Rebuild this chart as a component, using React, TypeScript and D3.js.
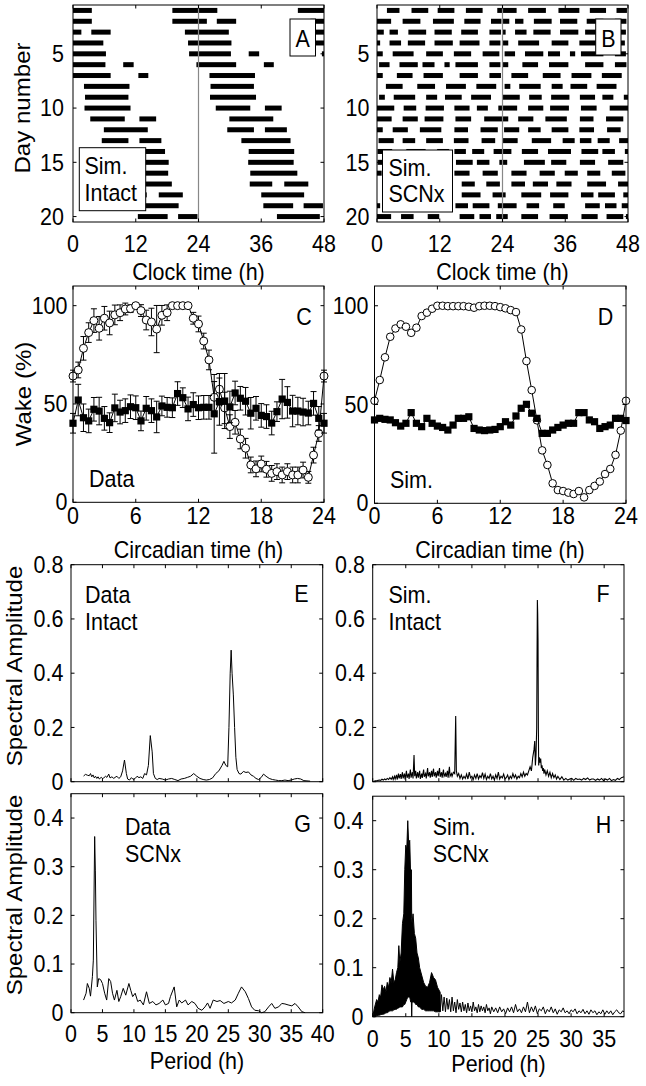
import React from 'react';
import * as d3 from 'd3';

const FONT = '"Liberation Sans", Arial, Helvetica, sans-serif';
const FS = 21.5;
const SY = 1.12;

// ---------- Panel A: simulated intact, wake episodes per day [start, end] (clock h) ----------
const intactWake: number[][][] = [
  [[0, 3.6], [19, 24]],
  [[0, 3.6], [19, 24]],
  [[0, 1.6], [3.5, 7.2], [21.4, 24]],
  [[0, 5.8], [22, 24]],
  [[0, 6.3], [22.2, 24]],
  [[0, 6.2], [9.6, 11.6], [23.6, 24]],
  [[0, 7.2], [12.5, 14.4]],
  [[2.1, 10.8]],
  [[2.3, 10.6]],
  [[2.2, 11]],
  [[3.3, 9.9], [12.7, 15.9]],
  [[5.9, 14.3]],
  [[5.5, 10.6], [12.7, 16.9]],
  [[8.2, 17.6]],
  [[9.6, 18.3]],
  [[9.5, 18.2]],
  [[9.9, 18.9]],
  [[9.8, 14.1], [16.4, 21]],
  [[12, 20.2]],
  [[12.4, 18.1], [20.1, 23.8]],
  [[15, 23.2]],
];

// ---------- Panel B: simulated SCNx ----------
const scnxWake: number[][][] = [
  [[1.9, 4.3], [6.6, 9.8], [11.6, 14.8], [17, 20.2], [23, 24]],
  [[0, 2.7], [4.9, 8.3], [10.7, 14.7], [16.7, 19.8], [21.8, 23.8]],
  [[0, 1.3], [2.4, 4], [6, 9.4], [11, 14.3], [16.1, 19.3], [21.5, 23.7]],
  [[0, 0.6], [2.4, 4.6], [5.9, 9.2], [11, 14.5], [15.8, 19.6], [21.5, 23.6]],
  [[0, 1.1], [3, 7], [9.4, 12.6], [14.7, 18], [20.2, 23.4]],
  [[0.4, 2.4], [4.3, 7.8], [8.7, 11], [12.9, 13.9], [15, 19.3], [21.5, 23.6]],
  [[0, 1.1], [3.8, 6.8], [8.9, 12.6], [15.8, 19.3], [21.5, 23.7]],
  [[1.7, 4.9], [7.7, 11.1], [13.2, 17], [19, 22.8]],
  [[0.4, 1.5], [3.2, 7.3], [9.4, 11.5], [13, 16.2], [18, 21.8]],
  [[0, 3.3], [5.1, 7.5], [9.3, 12.8], [14.8, 17.7], [19.1, 21.2], [23.2, 24]],
  [[0, 2.8], [4.9, 7.8], [9.1, 12.7], [15, 18], [20.5, 24]],
  [[0, 1.1], [3, 5.9], [8.2, 12.3], [14.8, 17.4], [19.8, 23.1]],
  [[0.3, 3.2], [4.9, 7.3], [9.4, 12.6], [14.7, 17.5], [20, 22.6]],
  [[0.1, 2.9], [5.6, 9.3], [11.5, 13.8], [14.8, 17], [18.2, 20.5], [22.3, 24]],
  [[0.1, 1.7], [3.7, 6.8], [8.7, 13.1], [15.1, 18.3], [19.1, 21.5], [23.4, 24]],
  [[0, 0.9], [4.1, 8.1], [9.3, 12.2], [14.8, 17.7], [20.2, 23.1]],
  [[1.7, 4.6], [7.1, 10], [11.9, 14.4], [16.2, 18.7], [20.9, 23.5]],
  [[1.7, 4.3], [5.8, 8.7], [10.3, 13.2], [16.2, 19.8], [22.1, 24]],
  [[0, 0.6], [3.6, 7.4], [9.1, 12.6], [15, 17.4], [18.3, 21.5], [23.1, 24]],
  [[0, 2.7], [4.6, 7], [9.7, 11.9], [15.8, 18.6], [19.6, 21.8], [22.8, 24]],
  [[0, 1], [3.6, 6.8], [9, 12.5], [15.1, 18.2], [19.9, 23.1], [23.6, 24]],
];

const actoXTicks = [0, 12, 24, 36, 48];
const dayTicks = [5, 10, 15, 20];

// ---------- Panels C, D: wake % vs circadian time ----------
const ctHours = [0, 0.5, 1, 1.5, 2, 2.5, 3, 3.5, 4, 4.5, 5, 5.5, 6, 6.5, 7, 7.5, 8, 8.5, 9, 9.5, 10, 10.5, 11, 11.5, 12, 12.5, 13, 13.5, 14, 14.5, 15, 15.5, 16, 16.5, 17, 17.5, 18, 18.5, 19, 19.5, 20, 20.5, 21, 21.5, 22, 22.5, 23, 23.5, 24];

const intactDataMean = [64.2, 67.3, 78.3, 86.3, 92.4, 88.5, 93.6, 91.2, 95.3, 96.4, 98.3, 98.5, 100,
  97.5, 92.7, 91.7, 88.1, 95.1, 96.4, 100, 100, 100, 100, 93.6, 90.7,
  82, 72.4, 53.4, 57.5, 48, 38.5, 40.7, 32.2, 27.5, 19, 17, 19.5,
  16.8, 14.7, 15.6, 13.9, 15.6, 13.9, 13.9, 16.4, 12.7, 24, 35, 64.2];
const intactDataErr = [3, 4, 6, 5, 6, 6, 6, 6, 5, 4, 3, 2, 1,
  3, 5, 7, 12, 5, 4, 1, 1, 1, 1, 3, 4,
  4, 5, 8, 8, 8, 6, 6, 5, 5, 4, 4, 4,
  4, 4, 4, 4, 4, 4, 4, 4, 3, 4, 4, 3];
const scnxDataMean = [40.2, 52, 43, 41.4, 47.3, 46.4, 42.7, 40.5, 48, 45.9, 46.6, 48.6, 48.1,
  41.4, 47.8, 46.6, 43.4, 49, 48.3, 48.1, 55.3, 53.2, 47.5, 49.7, 48.1,
  48.3, 48.3, 45, 51.2, 51.5, 48.5, 55.6, 52.9, 51.4, 45.3, 47.8, 44.2,
  43.6, 40.3, 46.1, 52.5, 50.8, 46.4, 46.4, 45.9, 45.4, 50.3, 42.7, 40.2];
const scnxDataErr = [5, 8, 7, 6, 6, 7, 6, 5, 7, 6, 6, 6, 6,
  5, 6, 6, 8, 5, 5, 5, 6, 5, 6, 6, 6,
  6, 6, 20, 12, 14, 8, 6, 6, 7, 8, 6, 6,
  6, 6, 5, 10, 8, 8, 7, 7, 6, 6, 6, 5];
const intactSimMean = [51.9, 62.4, 73.9, 84.3, 88.5, 90.6, 89.4, 86.3, 88.9, 94.8, 96.5, 98.5, 100,
  100, 99.8, 99.8, 99.8, 99.8, 99.5, 99, 99.8, 100, 100, 99.8, 99.3,
  98.7, 97.8, 96.8, 88, 72, 57.3, 42, 26.8, 19.4, 10.1, 6.7, 6.2,
  5.4, 4.7, 6.2, 3, 6.7, 8.8, 11, 14.8, 17.4, 24.5, 36.8, 51.9];
const scnxSimMean = [42.2, 43, 42.5, 42.2, 40.8, 39.1, 40.5, 45.9, 40.5, 38.8, 43, 40.5, 39.1,
  38.4, 37.1, 39.6, 43, 43, 43.8, 37.9, 37.1, 36.8, 37.1, 37.4, 38.8,
  41.3, 39.6, 44.2, 48.1, 50.1, 45.6, 43, 35.4, 35.4, 37.1, 38.4, 39.6,
  40.5, 40.5, 45.9, 45.9, 42.2, 41.3, 37.9, 38.8, 39.6, 43, 43, 41.9];
const ctTicks = [0, 6, 12, 18, 24];
const wakeTicks = [0, 50, 100];

// ---------- Panels E-H: spectral amplitude vs period ----------
const dataIntactSpec: [number, number][] = [
  [2.0, .021], [2.3, .027], [2.6, .024], [2.9, .022], [3.1, .03], [3.3, .018], [3.5, .025], [3.7, .014], [3.9, .02], [4.1, .012],
  [4.3, .018], [4.5, .01], [4.8, .016], [5.0, .012], [5.2, .014], [5.5, .02], [5.7, .016], [6.0, .028], [6.2, .014], [6.5, .018],
  [6.8, .012], [7.0, .016], [7.3, .02], [7.6, .012], [7.9, .018], [8.2, .04], [8.5, .08], [8.8, .03], [9.0, .01], [9.3, .006],
  [9.6, .015], [9.9, .008], [10.2, .012], [10.5, .02], [10.8, .015], [11.1, .018], [11.4, .012], [11.7, .03], [12.0, .025], [12.3, .06],
  [12.6, .17], [12.9, .11], [13.1, .03], [13.4, .012], [13.7, .008], [14.0, .012], [14.5, .01], [15.0, .006], [15.5, .01], [16.0, .012],
  [16.5, .008], [17.0, .004], [17.5, .01], [18.0, .012], [18.5, .016], [19.0, .02], [19.5, .03], [20.0, .02], [20.5, .012], [21.0, .008],
  [21.5, .006], [22.0, .008], [22.5, .014], [23.0, .03], [23.5, .04], [24.0, .06], [24.3, .075], [24.6, .06], [24.9, .055], [25.1, .2],
  [25.3, .4], [25.45, .485], [25.6, .4], [25.8, .32], [26.0, .2], [26.2, .09], [26.4, .045], [26.7, .03], [27.0, .028], [27.4, .038],
  [27.8, .034], [28.2, .036], [28.6, .025], [29.0, .02], [29.4, .012], [29.8, .008], [30.2, .015], [30.6, .028], [31.0, .02], [31.5, .012],
  [32.0, .008], [32.5, .006], [33.0, .004], [33.5, .004], [34.0, .006], [34.5, .004], [35.0, .006], [35.5, .01], [36.0, .012], [36.5, .01],
  [37.0, .004], [37.5, .003], [38.0, .002],
];

const simIntactSpec: [number, number][] = [
  [0.1, .001], [0.4, .003], [0.7, .004], [1.0, .006], [1.2, .005], [1.4, .009], [1.6, .006], [1.8, .01], [2.0, .007], [2.2, .012],
  [2.4, .008], [2.6, .015], [2.8, .009], [3.0, .018], [3.1, .008], [3.3, .02], [3.4, .01], [3.6, .025], [3.7, .008], [3.9, .03],
  [4.0, .012], [4.2, .028], [4.3, .01], [4.5, .035], [4.6, .012], [4.8, .03], [4.9, .008], [5.1, .04], [5.2, .014], [5.4, .03],
  [5.5, .01], [5.7, .045], [5.8, .015], [6.0, .035], [6.1, .012], [6.25, .098], [6.35, .02], [6.5, .04], [6.6, .012], [6.8, .035],
  [6.9, .015], [7.1, .04], [7.2, .01], [7.4, .03], [7.5, .014], [7.7, .045], [7.8, .018], [8.0, .03], [8.1, .012], [8.3, .05],
  [8.4, .02], [8.6, .035], [8.7, .015], [8.9, .04], [9.0, .018], [9.2, .048], [9.3, .02], [9.5, .035], [9.6, .015], [9.8, .04],
  [9.9, .02], [10.1, .05], [10.2, .018], [10.4, .035], [10.5, .015], [10.7, .045], [10.8, .02], [11.0, .03], [11.1, .018], [11.3, .04],
  [11.4, .015], [11.6, .055], [11.7, .02], [11.9, .03], [12.0, .02], [12.2, .035], [12.4, .03], [12.55, .242], [12.65, .04], [12.8, .02],
  [13.0, .03], [13.2, .012], [13.4, .025], [13.6, .01], [13.8, .02], [14.0, .012], [14.2, .028], [14.4, .01], [14.6, .035], [14.8, .014],
  [15.0, .02], [15.2, .008], [15.4, .025], [15.6, .012], [15.8, .03], [16.0, .01], [16.2, .022], [16.4, .015], [16.6, .033], [16.8, .012],
  [17.0, .028], [17.2, .008], [17.4, .02], [17.6, .012], [17.8, .03], [18.0, .01], [18.2, .02], [18.4, .006], [18.6, .025], [18.8, .012],
  [19.0, .035], [19.2, .01], [19.4, .02], [19.6, .014], [19.8, .028], [20.0, .01], [20.2, .015], [20.4, .025], [20.6, .008], [20.8, .02],
  [21.0, .012], [21.2, .03], [21.4, .015], [21.6, .025], [21.8, .01], [22.0, .02], [22.2, .015], [22.4, .03], [22.6, .018], [22.8, .035],
  [23.0, .02], [23.2, .03], [23.4, .025], [23.6, .04], [23.8, .055], [24.0, .04], [24.2, .09], [24.4, .12], [24.5, .15], [24.6, .06],
  [24.7, .1], [24.8, .2], [24.85, .45], [24.9, .67], [24.95, .62], [25.0, .52], [25.05, .2], [25.1, .06], [25.2, .09], [25.3, .07],
  [25.4, .085], [25.5, .05], [25.6, .06], [25.7, .04], [25.8, .05], [25.9, .03], [26.0, .045], [26.2, .025], [26.4, .04], [26.6, .02],
  [26.8, .035], [27.0, .015], [27.2, .03], [27.4, .015], [27.6, .025], [27.8, .01], [28.0, .02], [28.3, .008], [28.6, .018], [28.9, .006],
  [29.2, .012], [29.5, .006], [29.8, .01], [30.1, .012], [30.4, .005], [30.7, .012], [31.0, .008], [31.3, .01], [31.6, .006], [31.9, .012],
  [32.2, .008], [32.5, .014], [32.8, .006], [33.1, .01], [33.4, .01], [33.7, .005], [34.0, .01], [34.3, .006], [34.6, .012], [34.9, .004],
  [35.2, .01], [35.5, .006], [35.8, .012], [36.1, .004], [36.4, .008], [36.7, .005], [37.0, .012], [37.3, .008], [37.6, .015], [38.0, .018],
];

const dataScnxSpec: [number, number][] = [
  [2.0, .026], [2.4, .04], [2.6, .06], [2.9, .05], [3.1, .034], [3.4, .074], [3.55, .108], [3.76, .362], [3.87, .293], [3.97, .19],
  [4.18, .053], [4.4, .07], [4.7, .068], [5.0, .06], [5.35, .04], [5.67, .026], [6.0, .07], [6.3, .064], [6.6, .04], [6.9, .026],
  [7.3, .046], [7.6, .023], [7.9, .033], [8.3, .05], [8.7, .036], [9.2, .06], [9.5, .046], [9.8, .033], [10.2, .04], [10.6, .023],
  [11.0, .026], [11.5, .016], [12.0, .043], [12.45, .019], [13.0, .023], [13.5, .016], [14.0, .019], [14.6, .026], [15.0, .016], [15.5, .019],
  [15.8, .033], [16.4, .053], [16.8, .012], [17.2, .026], [17.6, .02], [18.2, .026], [18.6, .016], [19.2, .023], [19.7, .019], [20.2, .009],
  [20.8, .005], [21.3, .012], [21.7, .02], [22.1, .009], [22.6, .026], [23.2, .023], [23.7, .025], [24.3, .019], [25.0, .023], [25.5, .02],
  [26.1, .026], [26.6, .04], [27.1, .053], [27.7, .043], [28.2, .029], [28.7, .012], [29.2, .005], [29.8, .004], [30.3, 0], [30.8, .002],
  [31.4, .012], [31.9, .019], [32.4, .009], [33.0, .012], [33.5, .019], [34.0, .018], [34.5, .016], [35.1, .014], [35.6, .019], [36.1, .012],
  [36.7, .002], [37.2, 0],
];

// dense part of simulated SCNx spectrum: [period, lower envelope, upper envelope]
const simScnxBand: [number, number, number][] = [
  [0, 0, 0], [0.3, 0, .02], [0.6, .002, .035], [0.8, .003, .03], [1.0, .003, .045], [1.2, .004, .04], [1.4, .005, .065],
  [1.6, .005, .055], [1.8, .006, .062], [2.0, .008, .05], [2.2, .008, .07], [2.4, .01, .06], [2.6, .012, .08], [2.8, .012, .07],
  [3.0, .012, .097], [3.2, .014, .07], [3.4, .015, .075], [3.6, .015, .09], [3.8, .018, .1], [3.95, .018, .145], [4.1, .02, .11],
  [4.3, .02, .13], [4.5, .02, .19], [4.7, .025, .21], [4.85, .025, .3], [5.0, .03, .35], [5.15, .035, .34], [5.3, .04, .4],
  [5.45, .04, .35], [5.6, .04, .36], [5.75, .03, .28], [5.85, .03, .3], [5.9, 0, .2], [5.95, .03, .19], [6.1, .03, .21],
  [6.3, .03, .17], [6.5, .025, .16], [6.7, .025, .13], [6.9, .02, .12], [7.1, .02, .1], [7.4, .015, .085], [7.7, .015, .07],
  [8.0, .012, .062], [8.3, .012, .06], [8.6, .012, .07], [8.9, .012, .09], [9.2, .012, .08], [9.5, .01, .075], [9.8, .01, .06],
  [10.2, .01, .05],
];
const simScnxTail: [number, number][] = [
  [10.0, .05], [10.2, .01], [10.4, .045], [10.6, .012], [10.8, .04], [11.0, .01], [11.2, .038], [11.4, .015], [11.6, .035], [11.8, .01],
  [12.0, .04], [12.2, .012], [12.4, .03], [12.6, .008], [12.8, .035], [13.0, .015], [13.2, .028], [13.4, .01], [13.6, .03], [13.8, .012],
  [14.0, .025], [14.2, .008], [14.4, .028], [14.6, .012], [14.8, .022], [15.0, .01], [15.2, .03], [15.4, .012], [15.6, .02], [15.8, .008],
  [16.0, .025], [16.2, .01], [16.4, .022], [16.6, .012], [16.8, .02], [17.0, .008], [17.2, .025], [17.4, .012], [17.6, .018], [17.8, .006],
  [18.0, .02], [18.3, .01], [18.6, .018], [18.9, .008], [19.2, .02], [19.5, .01], [19.8, .016], [20.1, .006], [20.4, .018], [20.7, .01],
  [21.0, .02], [21.3, .008], [21.6, .025], [21.9, .01], [22.2, .016], [22.5, .008], [22.8, .02], [23.1, .01], [23.4, .03], [23.7, .008],
  [24.0, .02], [24.3, .01], [24.6, .022], [24.9, .006], [25.2, .016], [25.5, .012], [25.8, .02], [26.1, .006], [26.4, .015], [26.7, .01],
  [27.0, .02], [27.3, .008], [27.6, .016], [27.9, .005], [28.2, .014], [28.5, .01], [28.8, .018], [29.1, .008], [29.4, .012], [29.7, .006],
  [30.0, .014], [30.3, .01], [30.6, .016], [30.9, .006], [31.2, .012], [31.5, .008], [31.8, .015], [32.1, .006], [32.4, .012], [32.7, .005],
  [33.0, .014], [33.3, .008], [33.6, .012], [33.9, .004], [34.2, .01], [34.5, .006], [34.8, .014], [35.1, .005], [35.4, .012], [35.7, .006],
  [36.0, .012], [36.3, .004], [36.6, .01], [36.9, .014], [37.2, .008], [37.5, .006], [37.8, .012], [38.0, .01],
];

const specTicksHi = [0, 0.2, 0.4, 0.6, 0.8];
const specTicksLo = [0, 0.1, 0.2, 0.3, 0.4];
const periodTicks40 = [0, 5, 10, 15, 20, 25, 30, 35, 40];
const periodTicks38 = [0, 5, 10, 15, 20, 25, 30, 35];

type Scale = d3.ScaleLinear<number, number>;

function T(props: { x: number; y: number; anchor?: 'start' | 'middle' | 'end'; rot?: boolean; dy?: string; children: React.ReactNode }) {
  const { x, y, anchor, rot, dy, children } = props;
  return (
    <text transform={`translate(${x},${y}) scale(1,${SY})${rot ? ' rotate(-90)' : ''}`}
      textAnchor={anchor ?? 'start'} dy={dy} fontSize={FS} fill="#000">{children}</text>
  );
}

function Frame(props: {
  xs: Scale; ys: Scale; xTicks: number[]; yTicks: number[];
  xLabelY?: number; yLabelX?: number;
}) {
  const { xs, ys, xTicks, yTicks, xLabelY, yLabelX } = props;
  const [l, r] = xs.range();
  const yr = ys.range();
  const t = Math.min(yr[0], yr[1]);
  const b = Math.max(yr[0], yr[1]);
  const TL = 3.5;
  return (
    <g>
      {xTicks.map((v) => (
        <g key={'x' + v}>
          <line x1={xs(v)} x2={xs(v)} y1={b} y2={b - TL} stroke="#000" />
          <line x1={xs(v)} x2={xs(v)} y1={t} y2={t + TL} stroke="#000" />
          {xLabelY !== undefined && <T x={xs(v)} y={xLabelY} anchor="middle">{String(v)}</T>}
        </g>
      ))}
      {yTicks.map((v) => (
        <g key={'y' + v}>
          <line x1={l} x2={l + TL} y1={ys(v)} y2={ys(v)} stroke="#000" />
          <line x1={r} x2={r - TL} y1={ys(v)} y2={ys(v)} stroke="#000" />
          {yLabelX !== undefined && <T x={yLabelX} y={ys(v)} dy="0.34em" anchor="end">{String(v)}</T>}
        </g>
      ))}
      <rect x={l} y={t} width={r - l} height={b - t} fill="none" stroke="#000" strokeWidth={1} />
    </g>
  );
}

function Actogram(props: { xs: Scale; ys: Scale; wake: number[][][] }) {
  const { xs, ys, wake } = props;
  const rows = wake.slice(0, wake.length - 1).map((_, i) => i + 1);
  const BH = 5;
  return (
    <g>
      {rows.map((row) => (
        <g key={row}>
          {wake[row - 1].map((ep, j) => (
            <rect key={'l' + j} x={xs(ep[0])} width={xs(ep[1]) - xs(ep[0])} y={ys(row) - BH / 2} height={BH} fill="#000" />
          ))}
          {wake[row].map((ep, j) => (
            <rect key={'r' + j} x={xs(ep[0] + 24)} width={xs(ep[1] + 24) - xs(ep[0] + 24)} y={ys(row) - BH / 2} height={BH} fill="#000" />
          ))}
        </g>
      ))}
      <line x1={xs(24)} x2={xs(24)} y1={ys.range()[0]} y2={ys.range()[1]} stroke="#888" strokeWidth={1.2} />
    </g>
  );
}

function Series(props: {
  xs: Scale; ys: Scale; x: number[]; y: number[]; err?: number[]; marker: 'circle' | 'square'; r: number;
}) {
  const { xs, ys, x, y, err, marker, r } = props;
  const pts = x.map((v, i) => [v, y[i]] as [number, number]);
  const line = d3.line<[number, number]>().x((d) => xs(d[0])).y((d) => ys(d[1]));
  const cap = 3;
  return (
    <g>
      <path d={line(pts) || ''} fill="none" stroke="#000" strokeWidth={1} />
      {err && pts.map((d, i) => (
        <g key={'e' + i} stroke="#000" strokeWidth={1}>
          <line x1={xs(d[0])} x2={xs(d[0])} y1={ys(d[1] - err[i])} y2={ys(d[1] + err[i])} />
          <line x1={xs(d[0]) - cap} x2={xs(d[0]) + cap} y1={ys(d[1] - err[i])} y2={ys(d[1] - err[i])} />
          <line x1={xs(d[0]) - cap} x2={xs(d[0]) + cap} y1={ys(d[1] + err[i])} y2={ys(d[1] + err[i])} />
        </g>
      ))}
      {pts.map((d, i) =>
        marker === 'circle' ? (
          <circle key={'m' + i} cx={xs(d[0])} cy={ys(d[1])} r={r} fill="#fff" stroke="#000" strokeWidth={1} />
        ) : (
          <rect key={'m' + i} x={xs(d[0]) - r} y={ys(d[1]) - r} width={2 * r} height={2 * r} fill="#000" />
        )
      )}
    </g>
  );
}

function SpecLine(props: { xs: Scale; ys: Scale; data: [number, number][]; w?: number }) {
  const { xs, ys, data, w } = props;
  const line = d3.line<[number, number]>().x((d) => xs(d[0])).y((d) => ys(d[1]));
  return <path d={line(data) || ''} fill="none" stroke="#000" strokeWidth={w ?? 1} />;
}

function LegendBox(props: { x: number; y: number; w: number; h: number; lines: string[]; tx: number; ty: number[] }) {
  return (
    <g>
      <rect x={props.x} y={props.y} width={props.w} height={props.h} fill="#fff" stroke="#000" strokeWidth={1} />
      {props.lines.map((s, i) => (
        <T key={i} x={props.tx} y={props.ty[i]}>{s}</T>
      ))}
    </g>
  );
}

export default function App() {
  const aX = d3.scaleLinear().domain([0, 48]).range([73, 324]);
  const aY = d3.scaleLinear().domain([0.5, 20.5]).range([5, 222]);
  const bX = d3.scaleLinear().domain([0, 48]).range([377, 628]);
  const bY = d3.scaleLinear().domain([0.5, 20.5]).range([5, 222]);

  const cX = d3.scaleLinear().domain([0, 24]).range([73, 324]);
  const cY = d3.scaleLinear().domain([0, 110]).range([502.3, 286]);
  const dX = d3.scaleLinear().domain([0, 24]).range([374.5, 626]);
  const dY = d3.scaleLinear().domain([0, 110]).range([503.3, 286]);

  const eX = d3.scaleLinear().domain([0, 40]).range([71, 322.7]);
  const eY = d3.scaleLinear().domain([0, 0.8]).range([781.7, 564.7]);
  const fX = d3.scaleLinear().domain([0, 38]).range([372.7, 624]);
  const fY = d3.scaleLinear().domain([0, 0.8]).range([781.7, 564.7]);
  const gX = d3.scaleLinear().domain([0, 40]).range([71, 322.7]);
  const gY = d3.scaleLinear().domain([0, 0.45]).range([1012.7, 793.7]);
  const hX = d3.scaleLinear().domain([0, 38]).range([372.7, 624]);
  const hY = d3.scaleLinear().domain([0, 0.45]).range([1016.7, 796.2]);

  const band = d3.area<[number, number, number]>()
    .x((d) => hX(d[0])).y0((d) => hY(d[1])).y1((d) => hY(d[2]));

  return (
    <svg width={646} height={1086} fontFamily={FONT}
      style={{ position: 'absolute', left: 0, top: 0, background: '#fff' }}>
      <rect x={0} y={0} width={646} height={1086} fill="#fff" />

      {/* ---------- A ---------- */}
      <Actogram xs={aX} ys={aY} wake={intactWake} />
      <Frame xs={aX} ys={aY} xTicks={actoXTicks} yTicks={dayTicks} xLabelY={252} yLabelX={64} />
      <LegendBox x={79.3} y={147.7} w={66.4} h={63} lines={['Sim.', 'Intact']} tx={84.5} ty={[173.5, 200.5]} />
      <rect x={290} y={19} width={25.5} height={37} fill="#fff" stroke="#000" />
      <T x={302.7} y={46.5} anchor="middle">A</T>
      <T x={30} y={108} rot anchor="middle">Day number</T>
      <T x={198.5} y={280} anchor="middle">Clock time (h)</T>

      {/* ---------- B ---------- */}
      <Actogram xs={bX} ys={bY} wake={scnxWake} />
      <Frame xs={bX} ys={bY} xTicks={actoXTicks} yTicks={dayTicks} xLabelY={252} yLabelX={369.5} />
      <LegendBox x={382.5} y={150} w={70} h={62} lines={['Sim.', 'SCNx']} tx={388.5} ty={[175.5, 202]} />
      <rect x={595.7} y={19} width={25.3} height={36} fill="#fff" stroke="#000" />
      <T x={608.3} y={46.5} anchor="middle">B</T>
      <T x={502.5} y={280} anchor="middle">Clock time (h)</T>

      {/* ---------- C ---------- */}
      <Series xs={cX} ys={cY} x={ctHours} y={intactDataMean} err={intactDataErr} marker="circle" r={4} />
      <Series xs={cX} ys={cY} x={ctHours} y={scnxDataMean} err={scnxDataErr} marker="square" r={3.6} />
      <Frame xs={cX} ys={cY} xTicks={ctTicks} yTicks={wakeTicks} xLabelY={523.5} yLabelX={67.5} />
      <T x={304} y={325} anchor="middle">C</T>
      <T x={89} y={487}>Data</T>
      <T x={31} y={394} rot anchor="middle">Wake (%)</T>
      <T x={198.5} y={558} anchor="middle">Circadian time (h)</T>

      {/* ---------- D ---------- */}
      <Series xs={dX} ys={dY} x={ctHours} y={intactSimMean} marker="circle" r={3.8} />
      <Series xs={dX} ys={dY} x={ctHours} y={scnxSimMean} marker="square" r={3.6} />
      <Frame xs={dX} ys={dY} xTicks={ctTicks} yTicks={wakeTicks} xLabelY={524} yLabelX={368.5} />
      <T x={605.5} y={325} anchor="middle">D</T>
      <T x={390} y={488}>Sim.</T>
      <T x={500} y={558} anchor="middle">Circadian time (h)</T>

      {/* ---------- E ---------- */}
      <SpecLine xs={eX} ys={eY} data={dataIntactSpec} />
      <Frame xs={eX} ys={eY} xTicks={periodTicks40} yTicks={specTicksHi} yLabelX={63.5} />
      <T x={301.5} y={602} anchor="middle">E</T>
      <T x={85} y={603}>Data</T>
      <T x={85} y={630}>Intact</T>
      <T x={21.5} y={666} rot anchor="middle">Spectral Amplitude</T>

      {/* ---------- F ---------- */}
      <SpecLine xs={fX} ys={fY} data={simIntactSpec} w={1.1} />
      <Frame xs={fX} ys={fY} xTicks={periodTicks38} yTicks={specTicksHi} yLabelX={365} />
      <T x={603} y={602} anchor="middle">F</T>
      <T x={388.5} y={603}>Sim.</T>
      <T x={388.5} y={630}>Intact</T>

      {/* ---------- G ---------- */}
      <SpecLine xs={gX} ys={gY} data={dataScnxSpec} />
      <Frame xs={gX} ys={gY} xTicks={periodTicks40} yTicks={specTicksLo} xLabelY={1041.7} yLabelX={63.5} />
      <T x={302.5} y={832} anchor="middle">G</T>
      <T x={125} y={835}>Data</T>
      <T x={125} y={862}>SCNx</T>
      <T x={21.5} y={895} rot anchor="middle">Spectral Amplitude</T>
      <T x={197} y={1068.5} anchor="middle">Period (h)</T>

      {/* ---------- H ---------- */}
      <path d={band(simScnxBand) || ''} fill="#000" stroke="#000" strokeWidth={1} />
      <SpecLine xs={hX} ys={hY} data={simScnxTail} />
      <Frame xs={hX} ys={hY} xTicks={periodTicks38} yTicks={specTicksLo} xLabelY={1046.7} yLabelX={363.5} />
      <T x={603.5} y={833} anchor="middle">H</T>
      <T x={432.7} y={835}>Sim.</T>
      <T x={432.7} y={862}>SCNx</T>
      <T x={498.5} y={1072} anchor="middle">Period (h)</T>
    </svg>
  );
}
